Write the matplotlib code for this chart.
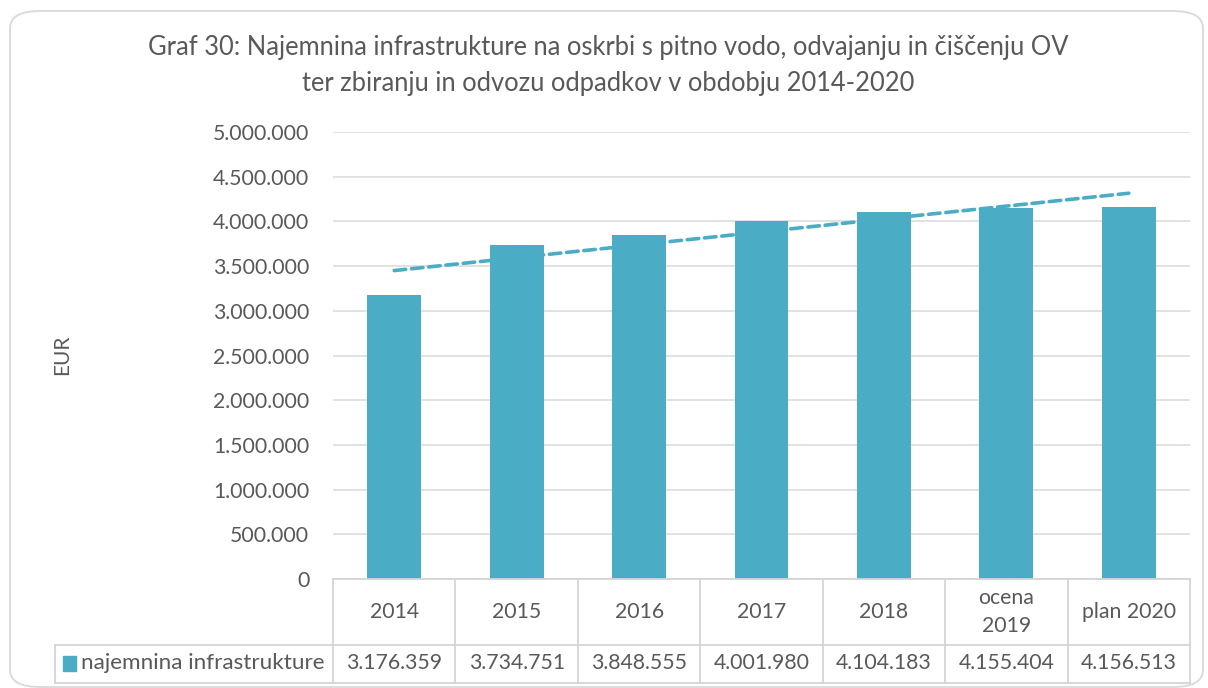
import matplotlib
matplotlib.use("Agg")
import matplotlib.pyplot as plt
from matplotlib.patches import FancyBboxPatch, Rectangle
from matplotlib.lines import Line2D
from matplotlib.ticker import FuncFormatter
import numpy as np

plt.rcParams['font.family'] = ['Lato', 'DejaVu Sans']

# Data
categories = ["2014", "2015", "2016", "2017", "2018", "ocena\n2019", "plan 2020"]
values = [3176359, 3734751, 3848555, 4001980, 4104183, 4155404, 4156513]
series_name = "najemnina infrastrukture"
title = ("Graf 30: Najemnina infrastrukture na oskrbi s pitno vodo, odvajanju in čiščenju OV\n"
         "ter zbiranju in odvozu odpadkov v obdobju 2014-2020")
y_ticks = [0, 500000, 1000000, 1500000, 2000000, 2500000, 3000000, 3500000,
           4000000, 4500000, 5000000]

BAR = "#4BACC6"
TXT = "#595959"
GRID = "#D9D9D9"
TABLE_LINE = "#D4D4D4"
FS = 15.3

W, H = 1208, 688
fig = plt.figure(figsize=(W / 100, H / 100), dpi=100)


def fx(px):
    return px / W


def fy(py):
    return 1 - py / H


# Rounded chart border
frame = FancyBboxPatch((fx(10), fy(687)), fx(1203) - fx(10), fy(11) - fy(687),
                       boxstyle="round,pad=0,rounding_size=0.025",
                       transform=fig.transFigure, facecolor="none",
                       edgecolor="#D9D9D9", linewidth=1.3, zorder=0)
fig.patches.append(frame)

# Plot area
left, right, top, bottom = 333, 1190, 132, 579
ax = fig.add_axes([fx(left), fy(bottom), fx(right) - fx(left), fy(top) - fy(bottom)])
ax.set_facecolor("none")

x = np.arange(len(values))
ax.bar(x, values, width=0.44, color=BAR, zorder=3)

# Linear trendline through the series
coef = np.polyfit(x, values, 1)
trend = np.polyval(coef, x)
ax.plot(x, trend, linestyle=(0, (3.2, 1.6)), color=BAR, linewidth=2.6,
        dash_capstyle="round", zorder=4)

ax.set_xlim(-0.5, len(values) - 0.5)
ax.set_ylim(0, 5000000)
ax.set_yticks(y_ticks)
ax.yaxis.set_major_formatter(FuncFormatter(lambda v, p: f"{int(v):,}".replace(",", ".")))
ax.tick_params(axis="y", length=0, pad=17, labelsize=FS, labelcolor=TXT)
ax.set_xticks([])
ax.grid(axis="y", color=GRID, linewidth=1.1, zorder=0)
for s in ax.spines.values():
    s.set_visible(False)

fig.text(fx(62), fy(355), "EUR", rotation=90, ha="center", va="center",
         fontsize=15, color=TXT)

fig.text(fx(608), fy(65), title, ha="center", va="center", fontsize=18.4,
         color=TXT, linespacing=1.55)

# Data table below the plot
row1_top, row1_bot, row2_bot = 579, 645, 683
table_left = 55
col_edges = [left + (right - left) * i / len(values) for i in range(len(values) + 1)]


def hline(y0, x0, x1):
    fig.add_artist(Line2D([fx(x0), fx(x1)], [fy(y0), fy(y0)], color=TABLE_LINE,
                          linewidth=1.3, transform=fig.transFigure))


def vline(xp, y0, y1):
    fig.add_artist(Line2D([fx(xp), fx(xp)], [fy(y0), fy(y1)], color=TABLE_LINE,
                          linewidth=1.3, transform=fig.transFigure))


hline(row1_top, left, right)
hline(row1_bot, table_left, right)
hline(row2_bot, table_left, right)
vline(table_left, row1_bot, row2_bot)
for i, xe in enumerate(col_edges):
    vline(xe, row1_top, row2_bot)

for i, (c, v) in enumerate(zip(categories, values)):
    xc = (col_edges[i] + col_edges[i + 1]) / 2
    fig.text(fx(xc), fy((row1_top + row1_bot) / 2), c, ha="center", va="center",
             fontsize=FS, color=TXT, linespacing=1.55)
    fig.text(fx(xc), fy((row1_bot + row2_bot) / 2 - 1), f"{v:,}".replace(",", "."),
             ha="center", va="center", fontsize=FS, color=TXT)

fig.add_artist(Rectangle((fx(63), fy(671)), fx(76) - fx(63), fy(656) - fy(671),
                         transform=fig.transFigure, color=BAR))
fig.text(fx(81), fy((row1_bot + row2_bot) / 2 - 1), series_name, ha="left", va="center",
         fontsize=16.2, color=TXT)

fig.savefig("out.png", dpi=100)
